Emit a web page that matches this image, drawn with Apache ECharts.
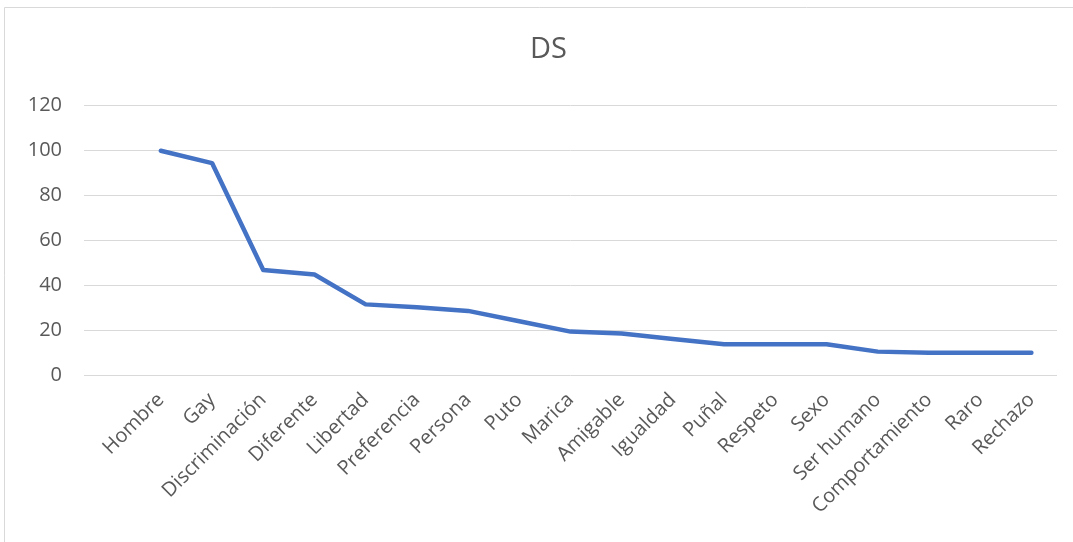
<!DOCTYPE html>
<html>
<head>
<meta charset="utf-8">
<script src="https://cdn.jsdelivr.net/npm/echarts@6/dist/echarts.min.js"></script>
<style>
  html, body { margin: 0; padding: 0; background: #fff; }
  #chart { width: 1073px; height: 542px; }
</style>
</head>
<body>
<div id="chart"></div>
<script>
// first slot is empty in the original sheet
const categories = ['', 'Hombre', 'Gay', 'Discriminación', 'Diferente', 'Libertad', 'Preferencia', 'Persona', 'Puto', 'Marica',
    'Amigable', 'Igualdad', 'Puñal', 'Respeto', 'Sexo', 'Ser humano', 'Comportamiento', 'Raro', 'Rechazo'];
const values = [null, 100, 94.5, 47, 45, 31.7, 30.4, 28.8, 24.2, 19.6,
    18.8, 16.3, 14, 14, 14, 10.7, 10.2, 10.2, 10.2];
const yTicks = [0, 20, 40, 60, 80, 100, 120];

const fontFamily = '"Open Sans", sans-serif';
let chart = echarts.init(document.getElementById('chart'));
chart.setOption({
    animation: false,
    title: {
        text: 'DS',
        left: 525,
        top: 30,
        textStyle: {
            fontFamily,
            fontSize: 29,
            fontWeight: 'normal',
            color: '#595959'
        }
    },
    graphic: [{
        type: 'rect',
        shape: { x: 4.5, y: 7.5, width: 1200, height: 700 },
        style: { fill: 'none', stroke: '#d9d9d9', lineWidth: 1 },
        silent: true
    }],
    grid: {
        left: 84,
        right: 16,
        top: 105.7,
        bottom: 166.3
    },
    xAxis: {
        type: 'category',
        data: categories,
        boundaryGap: true,
        axisLine: { show: false },
        axisTick: { show: false },
        axisLabel: {
            interval: 0,
            rotate: 45,
            margin: 21,
            fontFamily,
            fontSize: 20,
            color: '#595959'
        }
    },
    yAxis: {
        type: 'value',
        min: yTicks[0],
        max: yTicks[yTicks.length - 1],
        interval: 20,
        axisLine: { show: false },
        axisTick: { show: false },
        axisLabel: {
            margin: 22,
            fontFamily,
            fontSize: 20,
            color: '#595959'
        },
        splitLine: {
            lineStyle: { color: '#d9d9d9', width: 1 }
        }
    },
    series: [{
        type: 'line',
        data: values,
        showSymbol: false,
        connectNulls: false,
        lineStyle: {
            color: '#4472C4',
            width: 4.5,
            cap: 'round',
            join: 'round'
        }
    }]
});
</script>
</body>
</html>
